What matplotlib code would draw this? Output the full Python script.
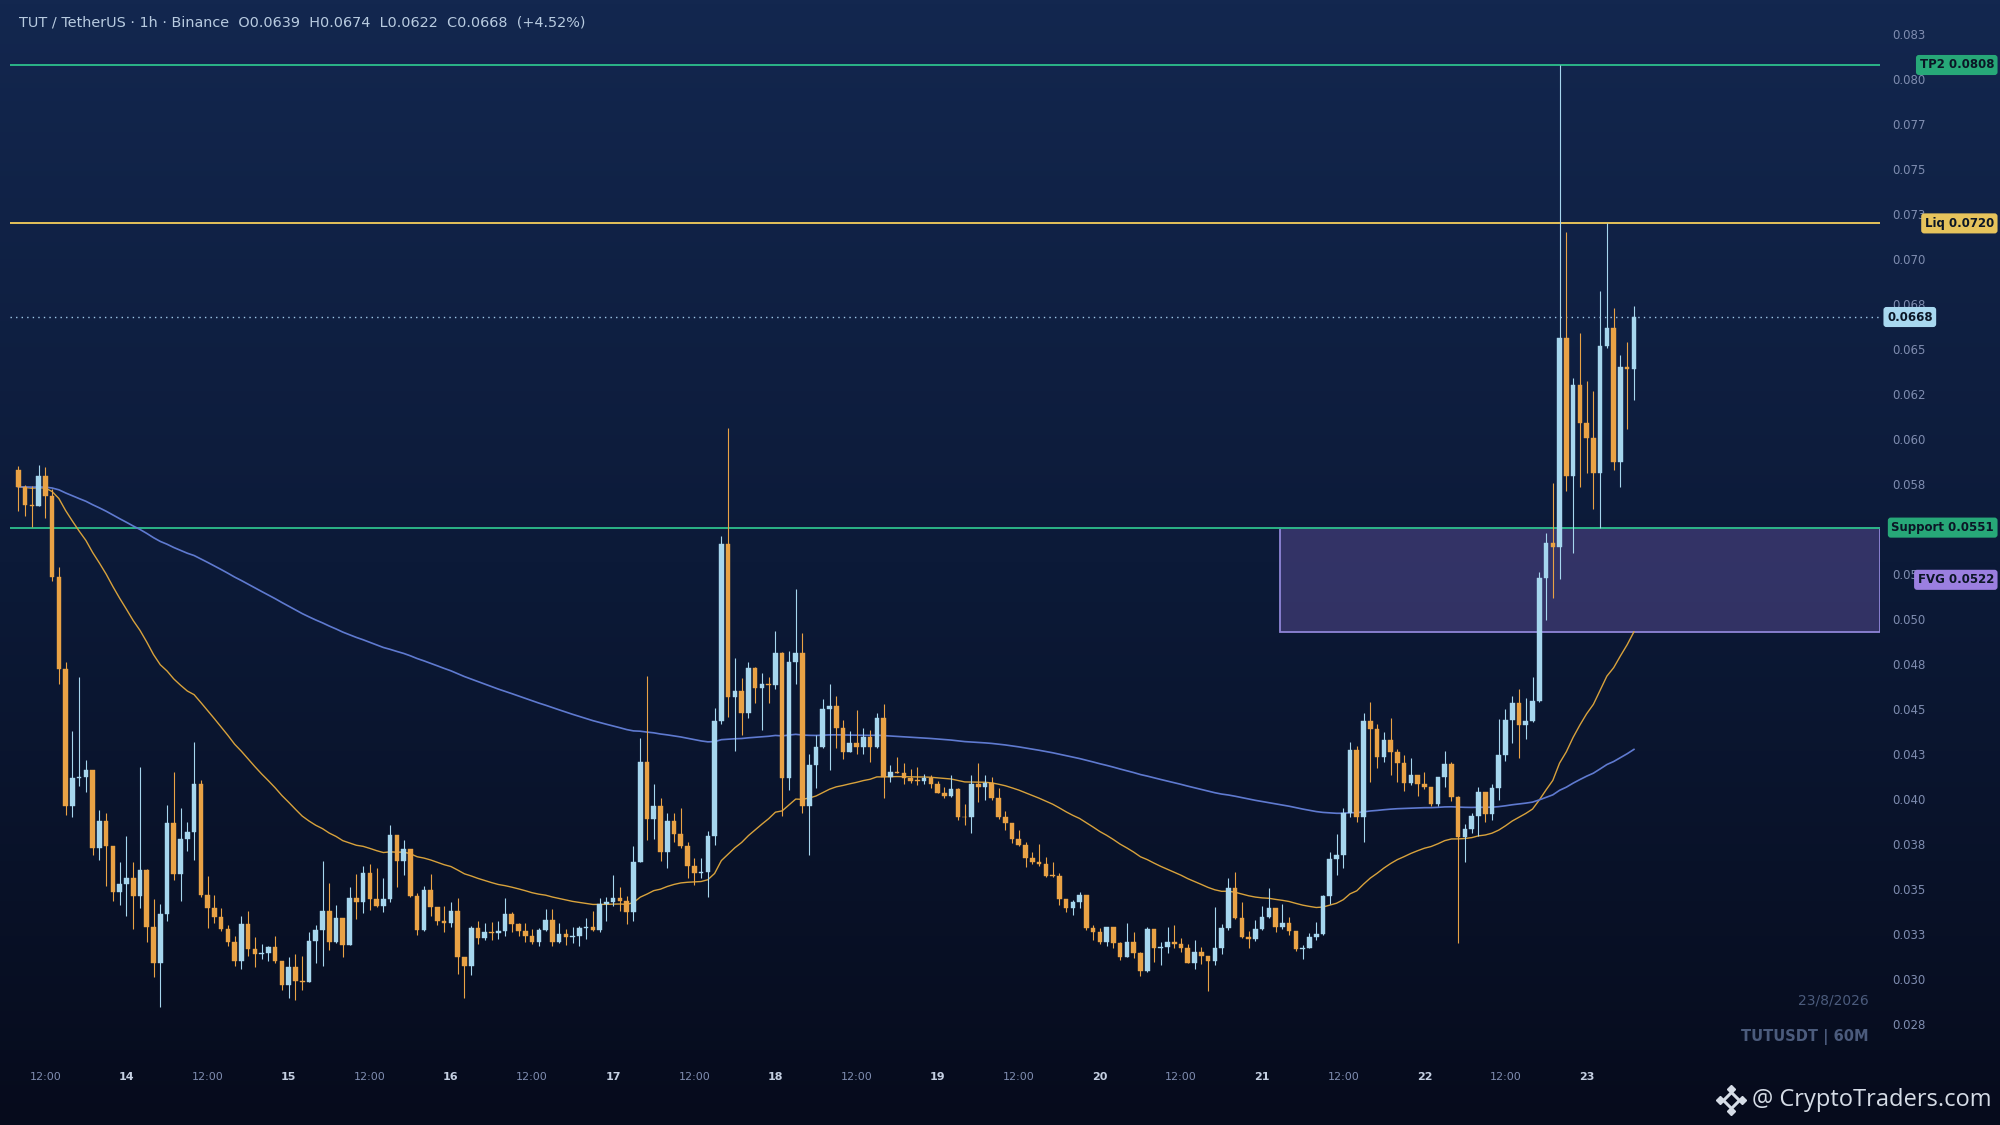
import numpy as np
import pandas as pd
import matplotlib
matplotlib.use('Agg')
import matplotlib.pyplot as plt
import matplotlib.transforms as mtransforms
from matplotlib.lines import Line2D
from matplotlib.patches import Rectangle
from matplotlib.colors import LinearSegmentedColormap

# ---------------- data ----------------
start_time = '2026-08-13 08:00'
first_open = 0.05832

closes = [
    0.05737, 0.05638, 0.05628, 0.05796, 0.05683, 0.05237, 0.04725, 0.03961, 0.04120, 0.04126,
    0.04161, 0.03729, 0.03878, 0.03739, 0.03485, 0.03529, 0.03562, 0.03461, 0.03606, 0.03290,
    0.03094, 0.03362, 0.03868, 0.03584, 0.03778, 0.03818, 0.04086, 0.03471, 0.03396, 0.03346,
    0.03279, 0.03209, 0.03100, 0.03306, 0.03169, 0.03140, 0.03148, 0.03179, 0.03100, 0.02969,
    0.03070, 0.02991, 0.02985, 0.03213, 0.03273, 0.03378, 0.03209, 0.03341, 0.03193, 0.03450,
    0.03429, 0.03593, 0.03446, 0.03409, 0.03446, 0.03805, 0.03659, 0.03727, 0.03466, 0.03275,
    0.03495, 0.03404, 0.03326, 0.03316, 0.03378, 0.03127, 0.03074, 0.03285, 0.03230, 0.03261,
    0.03258, 0.03269, 0.03361, 0.03306, 0.03271, 0.03244, 0.03209, 0.03275, 0.03332, 0.03209,
    0.03250, 0.03234, 0.03240, 0.03285, 0.03291, 0.03275, 0.03419, 0.03429, 0.03450, 0.03435,
    0.03372, 0.03655, 0.04206, 0.03889, 0.03963, 0.03706, 0.03880, 0.03806, 0.03741, 0.03632,
    0.03589, 0.03595, 0.03798, 0.04437, 0.05417, 0.04571, 0.04604, 0.04478, 0.04728, 0.04621,
    0.04641, 0.04636, 0.04812, 0.04117, 0.04762, 0.04812, 0.03965, 0.04191, 0.04289, 0.04500,
    0.04519, 0.04395, 0.04265, 0.04311, 0.04293, 0.04345, 0.04289, 0.04450, 0.04126, 0.04150,
    0.04148, 0.04117, 0.04104, 0.04102, 0.04121, 0.04084, 0.04037, 0.04018, 0.04058, 0.03904,
    0.03900, 0.04084, 0.04071, 0.04089, 0.04006, 0.03904, 0.03867, 0.03778, 0.03747, 0.03673,
    0.03654, 0.03639, 0.03576, 0.03574, 0.03445, 0.03395, 0.03428, 0.03469, 0.03287, 0.03261,
    0.03210, 0.03289, 0.03200, 0.03126, 0.03210, 0.03145, 0.03048, 0.03280, 0.03173, 0.03182,
    0.03210, 0.03197, 0.03173, 0.03093, 0.03154, 0.03132, 0.03104, 0.03173, 0.03284, 0.03506,
    0.03339, 0.03237, 0.03223, 0.03280, 0.03345, 0.03395, 0.03293, 0.03312, 0.03271, 0.03167,
    0.03176, 0.03234, 0.03250, 0.03463, 0.03667, 0.03689, 0.03923, 0.04274, 0.03904, 0.04436,
    0.04389, 0.04237, 0.04330, 0.04262, 0.04200, 0.04089, 0.04136, 0.04084, 0.04067, 0.03974,
    0.04123, 0.04195, 0.04015, 0.03789, 0.03834, 0.03908, 0.04039, 0.03919, 0.04061, 0.04247,
    0.04441, 0.04534, 0.04413, 0.04436, 0.04547, 0.05228, 0.05423, 0.05404, 0.06561, 0.05798,
    0.06302, 0.06093, 0.06010, 0.05812, 0.06519, 0.06617, 0.05876, 0.06400, 0.06390, 0.06680,
]

highs = [
    0.05852, 0.05745, 0.05743, 0.05856, 0.05846, 0.05723, 0.05292, 0.04765, 0.04380, 0.04681,
    0.04221, 0.04161, 0.03943, 0.03923, 0.03739, 0.03653, 0.03798, 0.03653, 0.04179, 0.03614,
    0.03449, 0.03419, 0.03967, 0.04150, 0.03953, 0.03872, 0.04320, 0.04106, 0.03576, 0.03471,
    0.03398, 0.03302, 0.03243, 0.03350, 0.03382, 0.03233, 0.03197, 0.03187, 0.03243, 0.03100,
    0.03124, 0.03144, 0.03128, 0.03263, 0.03302, 0.03659, 0.03538, 0.03415, 0.03341, 0.03515,
    0.03587, 0.03628, 0.03639, 0.03620, 0.03563, 0.03857, 0.03805, 0.03772, 0.03727, 0.03480,
    0.03517, 0.03587, 0.03404, 0.03409, 0.03429, 0.03450, 0.03127, 0.03296, 0.03322, 0.03316,
    0.03320, 0.03326, 0.03450, 0.03372, 0.03316, 0.03316, 0.03281, 0.03285, 0.03392, 0.03392,
    0.03316, 0.03279, 0.03291, 0.03296, 0.03341, 0.03378, 0.03450, 0.03460, 0.03579, 0.03511,
    0.03466, 0.03743, 0.04339, 0.04687, 0.04086, 0.04006, 0.03926, 0.03922, 0.03950, 0.03761,
    0.03676, 0.03673, 0.03826, 0.04506, 0.05465, 0.06062, 0.04784, 0.04673, 0.04765, 0.04734,
    0.04700, 0.04682, 0.04937, 0.04821, 0.04826, 0.05167, 0.04923, 0.04252, 0.04358, 0.04558,
    0.04639, 0.04576, 0.04441, 0.04382, 0.04497, 0.04395, 0.04386, 0.04478, 0.04528, 0.04191,
    0.04237, 0.04204, 0.04169, 0.04178, 0.04141, 0.04136, 0.04104, 0.04071, 0.04136, 0.04062,
    0.03973, 0.04136, 0.04200, 0.04136, 0.04126, 0.04062, 0.03937, 0.03870, 0.03830, 0.03765,
    0.03710, 0.03752, 0.03678, 0.03654, 0.03589, 0.03445, 0.03441, 0.03487, 0.03469, 0.03302,
    0.03284, 0.03293, 0.03289, 0.03210, 0.03312, 0.03261, 0.03154, 0.03293, 0.03280, 0.03206,
    0.03293, 0.03300, 0.03232, 0.03197, 0.03219, 0.03182, 0.03132, 0.03400, 0.03308, 0.03565,
    0.03598, 0.03428, 0.03269, 0.03330, 0.03410, 0.03510, 0.03395, 0.03419, 0.03345, 0.03271,
    0.03191, 0.03256, 0.03321, 0.03470, 0.03706, 0.03806, 0.03954, 0.04317, 0.04299, 0.04478,
    0.04539, 0.04417, 0.04376, 0.04450, 0.04280, 0.04247, 0.04228, 0.04136, 0.04150, 0.04067,
    0.04126, 0.04271, 0.04206, 0.04021, 0.03863, 0.03926, 0.04067, 0.04043, 0.04084, 0.04445,
    0.04500, 0.04576, 0.04612, 0.04561, 0.04682, 0.05265, 0.05478, 0.05760, 0.08080, 0.07154,
    0.06343, 0.06593, 0.06326, 0.06271, 0.06826, 0.07200, 0.06728, 0.06469, 0.06542, 0.06740,
]

lows = [
    0.05604, 0.05574, 0.05515, 0.05628, 0.05564, 0.05211, 0.04642, 0.03913, 0.03902, 0.04076,
    0.04041, 0.03689, 0.03663, 0.03521, 0.03435, 0.03411, 0.03352, 0.03281, 0.03396, 0.03209,
    0.03015, 0.02846, 0.03326, 0.03550, 0.03435, 0.03713, 0.03663, 0.03457, 0.03283, 0.03312,
    0.03267, 0.03183, 0.03074, 0.03060, 0.03128, 0.03070, 0.03114, 0.03100, 0.03094, 0.02939,
    0.02896, 0.02886, 0.02941, 0.02985, 0.03090, 0.03074, 0.03162, 0.03203, 0.03127, 0.03193,
    0.03337, 0.03367, 0.03388, 0.03405, 0.03374, 0.03429, 0.03511, 0.03579, 0.03460, 0.03248,
    0.03269, 0.03351, 0.03302, 0.03265, 0.03289, 0.03028, 0.02895, 0.03024, 0.03199, 0.03220,
    0.03220, 0.03224, 0.03240, 0.03261, 0.03240, 0.03209, 0.03197, 0.03183, 0.03271, 0.03183,
    0.03205, 0.03193, 0.03203, 0.03183, 0.03224, 0.03271, 0.03265, 0.03326, 0.03409, 0.03378,
    0.03306, 0.03326, 0.03650, 0.03774, 0.03780, 0.03660, 0.03621, 0.03761, 0.03728, 0.03561,
    0.03524, 0.03561, 0.03460, 0.03747, 0.04420, 0.04460, 0.04269, 0.04358, 0.04450, 0.04534,
    0.04386, 0.04534, 0.04613, 0.03908, 0.04052, 0.04639, 0.03923, 0.03691, 0.04062, 0.04284,
    0.04163, 0.04284, 0.04225, 0.04261, 0.04251, 0.04251, 0.04210, 0.04284, 0.04006, 0.04099,
    0.04145, 0.04084, 0.04089, 0.04080, 0.04084, 0.04062, 0.04034, 0.04010, 0.04015, 0.03886,
    0.03858, 0.03811, 0.03987, 0.03997, 0.03998, 0.03891, 0.03830, 0.03756, 0.03740, 0.03623,
    0.03641, 0.03632, 0.03567, 0.03567, 0.03413, 0.03376, 0.03358, 0.03395, 0.03274, 0.03219,
    0.03195, 0.03186, 0.03173, 0.03108, 0.03123, 0.03117, 0.03019, 0.03039, 0.03095, 0.03080,
    0.03145, 0.03173, 0.03150, 0.03089, 0.03058, 0.03086, 0.02936, 0.03080, 0.03141, 0.03274,
    0.03335, 0.03232, 0.03173, 0.03212, 0.03274, 0.03339, 0.03261, 0.03280, 0.03247, 0.03158,
    0.03113, 0.03172, 0.03219, 0.03247, 0.03417, 0.03580, 0.03617, 0.03900, 0.03873, 0.03762,
    0.04095, 0.04173, 0.04206, 0.04136, 0.04095, 0.04048, 0.04080, 0.04019, 0.04058, 0.03963,
    0.03963, 0.04071, 0.03991, 0.03200, 0.03650, 0.03811, 0.03799, 0.03876, 0.03886, 0.03997,
    0.04213, 0.04311, 0.04228, 0.04336, 0.04430, 0.04540, 0.04999, 0.05117, 0.05224, 0.05713,
    0.05367, 0.05734, 0.05812, 0.05612, 0.05506, 0.06506, 0.05830, 0.05737, 0.06058, 0.06220,
]

ema_fast_span = 50
ema_slow_span = 200

tp2_level = 0.0808
liq_level = 0.0720
support_level = 0.0551
fvg_low = 0.0493
fvg_high = 0.0551
fvg_mid = 0.0522
fvg_start = 186.6          # candle index where the FVG zone starts

last_open, last_high, last_low, last_close = 0.0639, 0.0674, 0.0622, 0.0668
change_pct = 4.52

y_ticks = [0.0275, 0.0300, 0.0325, 0.0350, 0.0375, 0.0400, 0.0425, 0.0450, 0.0475, 0.0500,
           0.0525, 0.0575, 0.0600, 0.0625, 0.0650, 0.0675, 0.0700, 0.0725, 0.0750,
           0.0775, 0.0800, 0.0825]
y_tick_labels = ['0.028', '0.030', '0.033', '0.035', '0.038', '0.040', '0.043', '0.045', '0.048',
                 '0.050', '0.053', '0.058', '0.060', '0.062', '0.065', '0.068', '0.070',
                 '0.073', '0.075', '0.077', '0.080', '0.083']
time_labels = ['12:00', '14', '12:00', '15', '12:00', '16', '12:00', '17', '12:00', '18',
               '12:00', '19', '12:00', '20', '12:00', '21', '12:00', '22', '12:00', '23']

# ---------------- colours ----------------
UP = '#a6d6ee'
DOWN = '#e9a245'
BG_TOP = '#13274f'
BG_BOT = '#060b1c'

# ---------------- figure ----------------
fig = plt.figure(figsize=(20, 11.25), dpi=100)

bg = fig.add_axes([0, 0, 1, 1], zorder=-10)
grad = np.linspace(0, 1, 256).reshape(-1, 1)
cmap = LinearSegmentedColormap.from_list('bg', [BG_TOP, '#0c1a38', BG_BOT])
bg.imshow(grad, aspect='auto', cmap=cmap, extent=[0, 1, 0, 1], origin='upper')
bg.axis('off')

ax = fig.add_axes([0.005, 0.067, 0.935, 0.933], zorder=1)
ax.set_facecolor('none')

n = len(closes)
x = np.arange(n)
c = np.array(closes)
o = np.array([first_open] + closes[:-1])
h = np.array(highs)
l = np.array(lows)
up = c >= o
cols = np.where(up, UP, DOWN)

body_lo = np.minimum(o, c)
body_h = np.maximum(np.abs(c - o), 0.00004)
ax.vlines(x, np.minimum(l, body_lo), np.maximum(h, body_lo + body_h), colors=cols, lw=0.8, zorder=3)
ax.bar(x, body_h, bottom=body_lo, width=0.68, color=cols, edgecolor=cols, linewidth=0.3, zorder=4)

ema_fast = pd.Series(closes).ewm(span=ema_fast_span, adjust=False).mean()
ema_slow = pd.Series(closes).ewm(span=ema_slow_span, adjust=False).mean()
ax.plot(x, ema_fast, color='#d8a23c', lw=1.0, zorder=2.6)
ax.plot(x, ema_slow, color='#5f7ad0', lw=1.2, zorder=2.6)

xmin, xmax = -1.23, 275.4
ax.set_xlim(xmin, xmax)
ax.set_ylim(0.0261, 0.084411)

ax.axhline(tp2_level, color='#2bb487', lw=1.4, zorder=2)
ax.axhline(liq_level, color='#e5c25a', lw=1.4, zorder=2)
ax.axhline(support_level, color='#2bb487', lw=1.4, zorder=2)
ax.axhline(last_close, color='#9fc8e8', lw=1.0, linestyle=(0, (1, 3)), zorder=2)

ax.add_patch(Rectangle((fvg_start, fvg_low), xmax - fvg_start, fvg_high - fvg_low,
                       facecolor=(125 / 255, 100 / 255, 190 / 255, 0.35),
                       edgecolor='#8f85d8', lw=1.3, zorder=1.5))

# axes / ticks
for s in ax.spines.values():
    s.set_visible(False)
ax.yaxis.tick_right()
ax.set_yticks(y_ticks, y_tick_labels)
ax.tick_params(axis='y', length=0, pad=8.6, labelsize=8.5, labelcolor='#7f8db0')

idx = pd.date_range(start_time, periods=n, freq='h')
tick_pos = [i for i, t in enumerate(idx) if t.hour in (0, 12)]
ax.set_xticks(tick_pos, time_labels)
ax.tick_params(axis='x', length=0, pad=16, labelsize=8, labelcolor='#7f8db0')
for lab in ax.get_xticklabels():
    if ':' not in lab.get_text():
        lab.set_fontweight('bold')
        lab.set_color('#c5d0e2')

# price tags on the right
trans = mtransforms.blended_transform_factory(fig.transFigure, ax.transData)


def tag(xf, y, s, fc, ha):
    ax.text(xf, y, s, transform=trans, ha=ha, va='center', fontsize=8.5, fontweight='bold',
            color='#0b1626', clip_on=False, zorder=10,
            bbox=dict(boxstyle='round,pad=0.3,rounding_size=0.25', fc=fc, ec='none'))


tag(0.997, tp2_level, f'TP2 {tp2_level:.4f}', '#27a878', 'right')
tag(0.997, liq_level, f'Liq {liq_level:.4f}', '#e6c35c', 'right')
tag(0.9435, last_close, f'{last_close:.4f}', '#a8d8f0', 'left')
tag(0.997, support_level, f'Support {support_level:.4f}', '#27a878', 'right')
tag(0.997, fvg_mid, f'FVG {fvg_mid:.4f}', '#9b7fe0', 'right')

# title
title = (f'TUT / TetherUS · 1h · Binance  O{last_open:.4f}  H{last_high:.4f}  '
         f'L{last_low:.4f}  C{last_close:.4f}  (+{change_pct:.2f}%)')
fig.text(19 / 2000, 1 - 23 / 1125, title, color='#b8cbe0', fontsize=10.4, va='center', ha='left')

# watermark texts
fig.text(1869 / 2000, 1 - 1000 / 1125, '23/8/2026', color='#4b5b7c', fontsize=10,
         ha='right', va='center')
fig.text(1869 / 2000, 1 - 1037 / 1125, 'TUTUSDT | 60M', color='#4b5b7c', fontsize=10.5,
         fontweight='bold', ha='right', va='center')

# logo
fig.text(1991 / 2000, 1 - 1100 / 1125, '@ CryptoTraders.com', color='#d5dce6', fontsize=17,
         family='Open Sans', ha='right', va='center')
cx, cy = 1731, 1100
fig.add_artist(Line2D([cx / 2000], [1 - cy / 1125], marker='D', markersize=8,
                      markerfacecolor='none', markeredgecolor='#d5dce6', markeredgewidth=2.2,
                      transform=fig.transFigure, linestyle='none'))
for px, py in [(cx - 11, cy), (cx + 11, cy), (cx, cy - 11), (cx, cy + 11)]:
    fig.add_artist(Line2D([px / 2000], [1 - py / 1125], marker='D', markersize=4.5,
                          color='#d5dce6', transform=fig.transFigure, linestyle='none'))

fig.savefig('out.png', dpi=100)
